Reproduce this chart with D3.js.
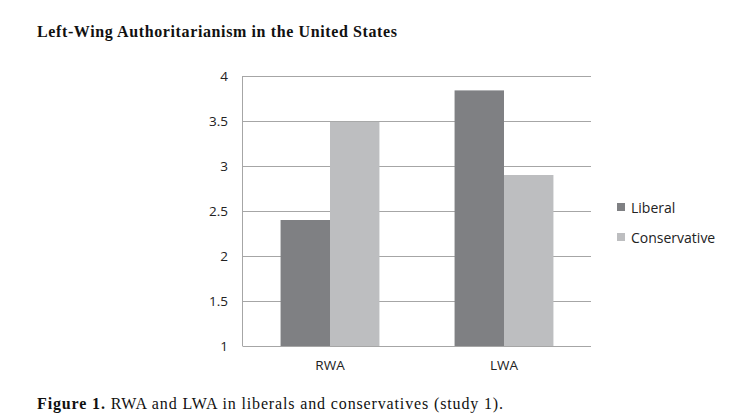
<!DOCTYPE html>
<html>
<head>
<meta charset="utf-8">
<script src="https://cdn.jsdelivr.net/npm/d3@7"></script>
<style>
  body { margin: 0; background: #fff; }
</style>
</head>
<body>
<div id="chart"></div>
<script>
// Data
const categories = ["RWA", "LWA"];
const seriesNames = ["Liberal", "Conservative"];
const liberalValues = [2.40, 3.84];
const conservativeValues = [3.49, 2.90];
const yTicks = [1, 1.5, 2, 2.5, 3, 3.5, 4];

const svgWidth = 733;
const svgHeight = 418;

const margin = { top: 76, right: 142, bottom: 72, left: 243 };
const width = svgWidth - margin.left - margin.right;
const height = svgHeight - margin.top - margin.bottom;

const colors = { Liberal: "#7f8083", Conservative: "#bdbec0" };

const svg = d3.select("#chart")
  .append("svg")
  .attr("width", svgWidth)
  .attr("height", svgHeight);

// Title
svg.append("text")
  .attr("x", 37)
  .attr("y", 37)
  .attr("textLength", 360)
  .attr("lengthAdjust", "spacing")
  .style("font-family", "'Liberation Serif', 'Times New Roman', serif")
  .style("font-weight", "bold")
  .style("font-size", "16px")
  .style("fill", "#111")
  .text("Left-Wing Authoritarianism in the United States");

const chartGroup = svg.append("g")
  .attr("transform", `translate(${margin.left}, ${margin.top})`);

const x0 = d3.scaleBand()
  .domain(categories)
  .range([0, width])
  .paddingInner(0)
  .paddingOuter(0);

const x1 = d3.scaleBand()
  .domain(seriesNames)
  .range([0, x0.bandwidth()])
  .paddingOuter(0.76)
  .paddingInner(0);

const y = d3.scaleLinear()
  .domain([1, 4])
  .range([height, 0]);

// gridlines
chartGroup.append("g")
  .selectAll("line")
  .data(yTicks)
  .join("line")
  .attr("x1", 0)
  .attr("x2", width)
  .attr("y1", d => y(d) + 0.5)
  .attr("y2", d => y(d) + 0.5)
  .attr("stroke", "#a6a6a6")
  .attr("stroke-width", 1);

// bars
const rows = categories.map((c, i) => ({
  category: c,
  values: [
    { name: "Liberal", value: liberalValues[i] },
    { name: "Conservative", value: conservativeValues[i] }
  ]
}));

chartGroup.selectAll(".group")
  .data(rows)
  .join("g")
  .attr("class", "group")
  .attr("transform", d => `translate(${x0(d.category)}, 0)`)
  .selectAll("rect")
  .data(d => d.values)
  .join("rect")
  .attr("x", d => x1(d.name))
  .attr("width", x1.bandwidth())
  .attr("y", d => y(d.value))
  .attr("height", d => y(1) - y(d.value))
  .attr("fill", d => colors[d.name]);

// left axis line
chartGroup.append("line")
  .attr("x1", -0.5).attr("x2", -0.5)
  .attr("y1", 0).attr("y2", height + 0.5)
  .attr("stroke", "#a6a6a6");

// y axis labels
const leftAxis = d3.axisLeft(y)
  .tickValues(yTicks)
  .tickSize(0)
  .tickPadding(15)
  .tickFormat(d3.format(""));

chartGroup.append("g")
  .call(leftAxis)
  .call(g => g.select(".domain").remove())
  .selectAll("text")
  .style("font-family", "'Open Sans', 'Noto Sans', sans-serif")
  .style("font-size", "13.5px")
  .style("fill", "#222");

// x axis labels
const bottomAxis = d3.axisBottom(x0)
  .tickSize(0)
  .tickPadding(14);

chartGroup.append("g")
  .attr("transform", `translate(0, ${height})`)
  .call(bottomAxis)
  .call(g => g.select(".domain").remove())
  .selectAll("text")
  .style("font-family", "'Open Sans', 'Noto Sans', sans-serif")
  .style("font-size", "13.5px")
  .style("fill", "#222");

// legend
const legend = svg.append("g")
  .attr("transform", "translate(617, 203)");

legend.selectAll("g")
  .data(seriesNames)
  .join("g")
  .attr("transform", (d, i) => `translate(0, ${i * 30})`)
  .call(g => g.append("rect")
    .attr("width", 8)
    .attr("height", 8)
    .attr("fill", d => colors[d]))
  .call(g => g.append("text")
    .attr("x", 14)
    .attr("y", 10)
    .style("font-family", "'Open Sans', 'Noto Sans', sans-serif")
    .style("font-size", "14px")
    .style("fill", "#222")
    .text(d => d));

// caption
const caption = svg.append("text")
  .attr("x", 37)
  .attr("y", 409)
  .attr("textLength", 466)
  .attr("lengthAdjust", "spacing")
  .style("font-family", "'Liberation Serif', 'Times New Roman', serif")
  .style("font-size", "16px")
  .style("fill", "#111");

caption.append("tspan")
  .style("font-weight", "bold")
  .text("Figure 1.");
caption.append("tspan")
  .text(" RWA and LWA in liberals and conservatives (study 1).");
</script>
</body>
</html>
